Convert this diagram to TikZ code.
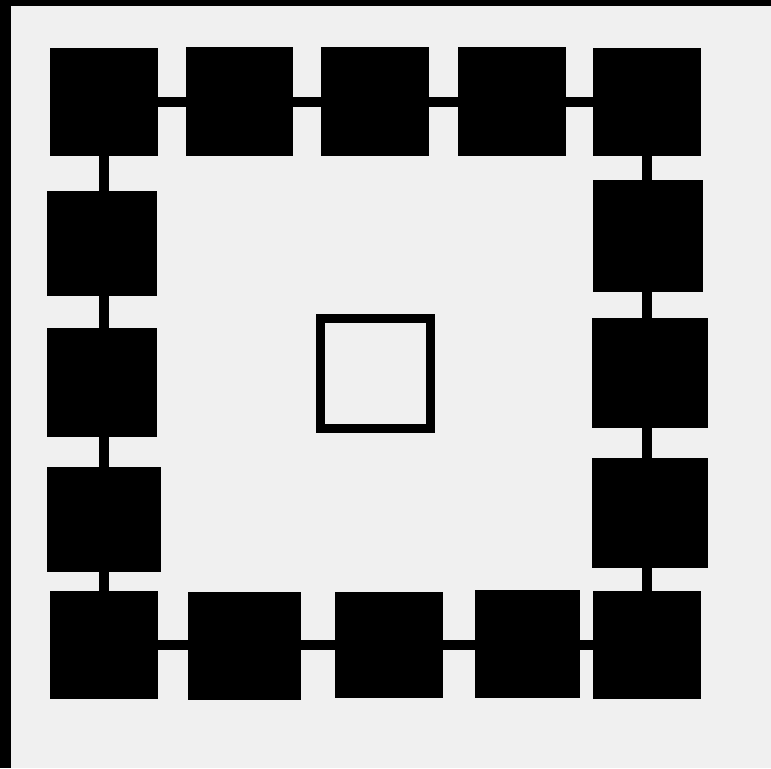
\documentclass[tikz,border=0pt]{standalone}
\usepackage{tikz}
\usepackage{xcolor}
\usetikzlibrary{fit, positioning}
\definecolor{cPaper}{RGB}{240,240,240}
\tikzset{
	cell/.style   ={rectangle, draw=none, fill=black, inner sep=0pt},
	hub/.style    ={rectangle, draw=black, line width=0.18cm, fill=none, inner sep=0pt},
	link/.style   ={draw=black, line width=0.2cm},
}

\begin{document}
\begin{tikzpicture}[x=0.02cm, y=-0.02cm]
	% paper and dark frame strips
	\fill[cPaper] (0,0) rectangle (771,768);
	\useasboundingbox (0,0) rectangle (771,768);
	\fill[black] (0,0) rectangle (11,768);
	\fill[black] (0,0) rectangle (771,6);
	% ring of cells, clockwise from the top left
	\foreach \n/\xa/\ya/\xb/\yb in {
		1/50/48/158/156, 2/186/47/293/156, 3/321/47/429/156, 4/458/47/566/156,
		5/593/48/701/156, 6/593/180/703/292, 7/592/318/708/428, 8/592/458/708/568,
		9/593/591/701/699, 10/475/590/580/698, 11/335/592/443/698, 12/188/592/301/700,
		13/50/591/158/699, 14/47/467/161/572, 15/47/328/157/437, 16/47/191/157/296} {
		\node[cell, fit={(\xa,\ya) (\xb,\yb)}] (c\n) {};
	}
	% centre hub
	\node[hub, fit={(320.5,318.5) (430.5,428.5)}] (hub) {};
	% links: rows run level with the corner cell, columns plumb with it
	\foreach \a/\b in {1/2, 1/3, 1/4, 1/5, 13/12, 13/11, 13/10, 13/9} {
		\draw[link] (c\a) -- (c\a -| c\b);
	}
	\foreach \a/\b in {1/16, 1/15, 1/14, 1/13, 5/6, 5/7, 5/8, 5/9} {
		\draw[link] (c\a) -- (c\a |- c\b);
	}
\end{tikzpicture}
\end{document}
